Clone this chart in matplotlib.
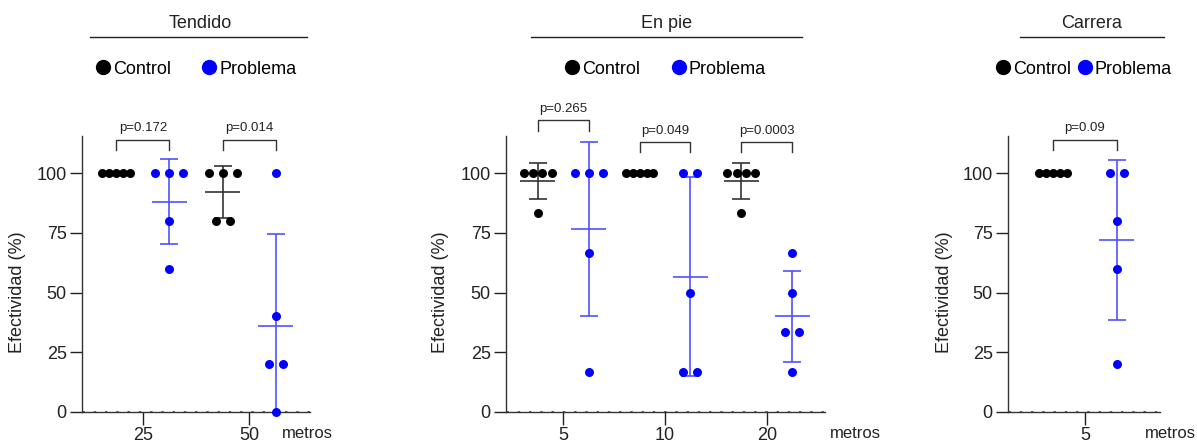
import numpy as np
import matplotlib

matplotlib.use("Agg")
import matplotlib.pyplot as plt  # noqa: E402
from matplotlib.lines import Line2D  # noqa: E402

# ---- data -------------------------------------------------------------
tendido_dist = ["25", "50"]
tendido_control = [[100, 100, 100, 100, 100], [100, 100, 100, 80, 80]]
tendido_problema = [[100, 100, 100, 80, 60], [100, 40, 20, 20, 0]]
tendido_p = ["p=0.172", "p=0.014"]

enpie_dist = ["5", "10", "20"]
enpie_control = [[100, 100, 100, 100, 83.3], [100, 100, 100, 100, 100],
                 [100, 100, 100, 100, 83.3]]
enpie_problema = [[100, 100, 100, 66.7, 16.7], [100, 100, 50, 16.7, 16.7],
                  [66.7, 50, 33.3, 33.3, 16.7]]
enpie_p = ["p=0.265", "p=0.049", "p=0.0003"]

carrera_dist = ["5"]
carrera_control = [[100, 100, 100, 100, 100]]
carrera_problema = [[100, 100, 80, 60, 20]]
carrera_p = ["p=0.09"]

# ---- style / layout ---------------------------------------------------
W, H = 1197, 443
BLACK = "#000000"
BLUE = "#0000ff"
BLUE_BAR = "#5050ff"
BLACK_BAR = "#333333"
AXIS = "#333333"
TXT = "#222222"
YTOP = 115.5

plt.rcParams["font.family"] = ["Liberation Sans", "DejaVu Sans"]
NARROW = ["Liberation Sans Narrow", "Liberation Sans", "DejaVu Sans"]

panels = [
    dict(title="Tendido", dist=tendido_dist, ctrl=tendido_control,
         prob=tendido_problema, pvals=tendido_p,
         box=(82, 136, 310, 412), ppu=106, xlim=(-0.575, 1.575),
         brk=[114, 114], colsp=1.75, title_x=200, line=(90, 307),
         ylab_x=26, metros_x=282),
    dict(title="En pie", dist=enpie_dist, ctrl=enpie_control,
         prob=enpie_problema, pvals=enpie_p,
         box=(506, 136, 825, 412), ppu=102, xlim=(-0.56, 2.57),
         brk=[122, 113, 113], colsp=1.75, title_x=667, line=(531, 802),
         ylab_x=449, metros_x=830),
    dict(title="Carrera", dist=carrera_dist, ctrl=carrera_control,
         prob=carrera_problema, pvals=carrera_p,
         box=(1008, 136, 1160, 412), ppu=128, xlim=(-0.60, 0.586),
         brk=[114], colsp=0.35, title_x=1092, line=(1020, 1164),
         ylab_x=953, metros_x=1145),
]


def swarm(vals, center, ppu, step_px=14, max_px=28):
    """GraphPad-like spreading of equal values side by side."""
    xs = np.empty(len(vals))
    vals = np.asarray(vals, dtype=float)
    for v in np.unique(vals):
        idx = np.where(vals == v)[0]
        k = len(idx)
        step = step_px if k < 2 else min(step_px, max_px / (k - 1))
        xs[idx] = center + (np.arange(k) - (k - 1) / 2) * step / ppu
    return xs


def draw_group(ax, vals, x, ppu, color, barcolor):
    m = np.mean(vals)
    sd = np.std(vals, ddof=1)
    ax.errorbar(x, m, yerr=sd, fmt="none", ecolor=barcolor, elinewidth=1.2,
                capsize=6.5, capthick=1.2, zorder=2)
    ax.hlines(m, x - 17.5 / ppu, x + 17.5 / ppu, color=barcolor, lw=1.2,
              zorder=2)
    ax.scatter(swarm(vals, x, ppu), vals, s=42, color=color, zorder=3,
               clip_on=False, linewidths=0)


fig = plt.figure(figsize=(W / 100, H / 100), dpi=100)

for p in panels:
    x0, y0, x1, y1 = p["box"]
    ax = fig.add_axes([x0 / W, 1 - y1 / H, (x1 - x0) / W, (y1 - y0) / H])
    ppu = p["ppu"]
    n = len(p["dist"])
    for i in range(n):
        draw_group(ax, p["ctrl"][i], i - 0.25, ppu, BLACK, BLACK_BAR)
        draw_group(ax, p["prob"][i], i + 0.25, ppu, BLUE, BLUE_BAR)
        h = p["brk"][i]
        ax.plot([i - 0.25, i - 0.25, i + 0.25, i + 0.25],
                [h - 4.2, h, h, h - 4.2], color=AXIS, lw=1, clip_on=False)
        ax.text(i, h + 2.2, p["pvals"][i], ha="center", va="bottom",
                fontsize=9.5, family=NARROW, color=TXT)

    ax.set_xlim(*p["xlim"])
    ax.set_ylim(0, YTOP)
    ax.set_xticks(range(n))
    ax.set_xticklabels(p["dist"])
    ax.set_yticks([0, 25, 50, 75, 100])
    ax.tick_params(labelsize=13, colors=TXT, length=9, width=1,
                   direction="out", pad=2)
    for s in ("top", "right"):
        ax.spines[s].set_visible(False)
    for s in ("left", "bottom"):
        ax.spines[s].set_color(AXIS)
        ax.spines[s].set_linewidth(1)
    ax.axhline(0, color=AXIS, lw=1.8, ls=(0, (1, 3.5)), zorder=1)

    ax.set_ylabel("Efectividad (%)", fontsize=13, color=TXT)
    ax.yaxis.set_label_coords((p["ylab_x"] - x0) / (x1 - x0), 50 / YTOP)

    handles = [Line2D([], [], marker="o", ls="", color=BLACK, markersize=10),
               Line2D([], [], marker="o", ls="", color=BLUE, markersize=10)]
    ax.legend(handles, ["Control", "Problema"], ncol=2, frameon=False,
              loc="center", bbox_to_anchor=(0.5, (y1 - 69) / (y1 - y0)),
              handletextpad=0.15, handlelength=0.8, columnspacing=p["colsp"],
              fontsize=13, borderaxespad=0)

    fig.text(p["title_x"] / W, 1 - 24 / H, p["title"], ha="center",
             va="center", fontsize=13, color=TXT)
    lx0, lx1 = p["line"]
    fig.add_artist(Line2D([lx0 / W, lx1 / W], [1 - 37 / H, 1 - 37 / H],
                          transform=fig.transFigure, color=TXT, lw=1))
    fig.text(p["metros_x"] / W, 1 - 433 / H, "metros", ha="left",
             va="center", fontsize=12, color=TXT)

fig.savefig("out.png", dpi=100)
